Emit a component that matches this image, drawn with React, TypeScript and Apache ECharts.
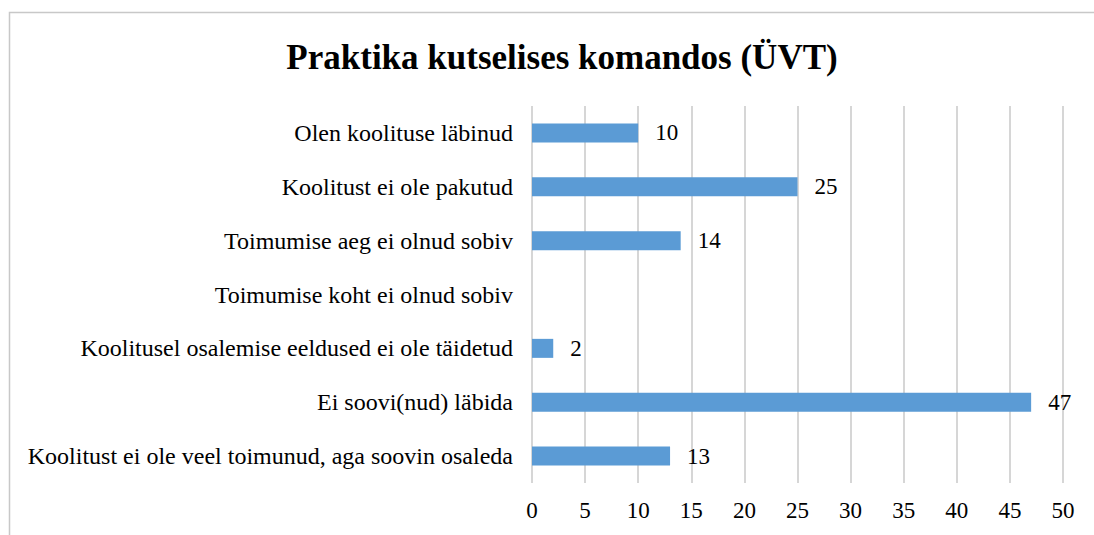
import React, { useEffect, useRef } from "react";
import * as echarts from "echarts";

const titleText = "Praktika kutselises komandos (ÜVT)";
const categories = [
  "Olen koolituse läbinud",
  "Koolitust ei ole pakutud",
  "Toimumise aeg ei olnud sobiv",
  "Toimumise koht ei olnud sobiv",
  "Koolitusel osalemise eeldused ei ole täidetud",
  "Ei soovi(nud) läbida",
  "Koolitust ei ole veel toimunud, aga soovin osaleda",
];
const values: (number | null)[] = [10, 25, 14, null, 2, 47, 13];
const xMin = 0;
const xMax = 50;
const xStep = 5;

const FONT = "Liberation Serif";

export default function App() {
  const ref = useRef<HTMLDivElement>(null);
  useEffect(() => {
    if (!ref.current) return;
    const chart = echarts.init(ref.current, undefined, { renderer: "svg" });
    chart.setOption({
      animation: false,
      backgroundColor: "#ffffff",
      title: {
        text: titleText,
        left: 557,
        textAlign: "center",
        top: 35,
        textStyle: { fontFamily: FONT, fontSize: 35, fontWeight: "bold", color: "#000" },
      },
      graphic: [
        {
          type: "rect",
          shape: { x: 9.5, y: 12.5, width: 1200, height: 600 },
          style: { fill: "none", stroke: "#c8c8c8", lineWidth: 1.5 },
          silent: true,
          z: -1,
        },
      ],
      grid: { left: 532, right: 31, top: 106, bottom: 52, containLabel: false },
      xAxis: {
        type: "value",
        min: xMin,
        max: xMax,
        interval: xStep,
        axisLine: { show: false },
        axisTick: { show: false },
        splitLine: { show: true, lineStyle: { color: "#c8c8c8", width: 1.5 } },
        axisLabel: { fontFamily: FONT, fontSize: 23, color: "#000", margin: 16 },
      },
      yAxis: {
        type: "category",
        data: categories,
        inverse: true,
        axisLine: { show: false },
        axisTick: { show: false },
        axisLabel: { fontFamily: FONT, fontSize: 24, color: "#000", margin: 19 },
      },
      series: [
        {
          type: "bar",
          data: values,
          barWidth: 19,
          itemStyle: { color: "#5b9bd5" },
          label: {
            show: true,
            position: "right",
            distance: 17,
            fontFamily: FONT,
            fontSize: 23,
            color: "#000",
          },
        },
      ],
    });
    return () => chart.dispose();
  }, []);
  return (
    <div
      ref={ref}
      style={{ position: "fixed", left: 0, top: 0, width: 1094, height: 535 }}
    />
  );
}
